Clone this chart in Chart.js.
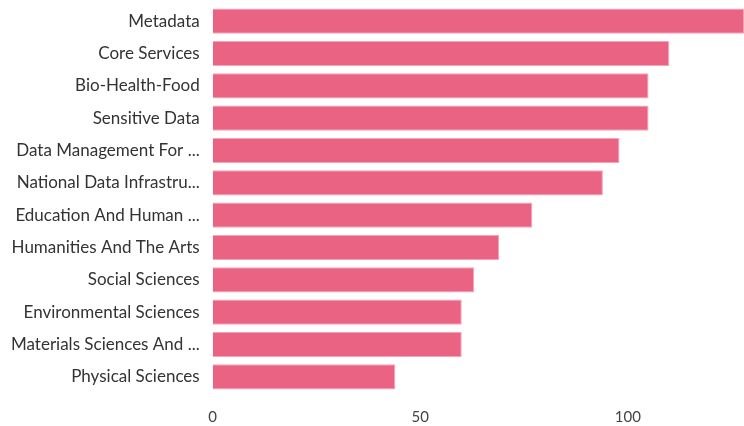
<!DOCTYPE html>
<html>
<head>
<meta charset="utf-8">
<script src="https://cdn.jsdelivr.net/npm/chart.js@4/dist/chart.umd.min.js"></script>
<style>
  html, body { margin: 0; padding: 0; background: #fff; overflow: hidden; }
  canvas { display: block; }
</style>
</head>
<body>
<canvas id="topicChart" width="744" height="426"></canvas>
<script>
// categories as shown on the axis (already truncated in the source)
var topics = [
    'Metadata',
    'Core Services',
    'Bio-Health-Food',
    'Sensitive Data',
    'Data Management For ...',
    'National Data Infrastru...',
    'Education And Human ...',
    'Humanities And The Arts',
    'Social Sciences',
    'Environmental Sciences',
    'Materials Sciences And ...',
    'Physical Sciences'
];
var counts = [128, 110, 105, 105, 98, 94, 77, 69, 63, 60, 60, 44];
var xTicks = [0, 50, 100];
var xMax = 128;

document.addEventListener("DOMContentLoaded", function () {
    var ctx = document.getElementById('topicChart').getContext('2d');

    new Chart(ctx, {
        type: 'bar',
        data: {
            labels: topics,
            datasets: [{
                data: counts,
                backgroundColor: '#ea6383',
                borderColor: '#f5a3b6',
                borderWidth: 1,
                barPercentage: 0.97,
                categoryPercentage: 0.8
            }]
        },
        options: {
            indexAxis: 'y',
            responsive: false,
            animation: false,
            layout: { padding: { top: 5, right: 0, left: 11, bottom: 0 } },
            plugins: {
                legend: { display: false },
                tooltip: { enabled: false }
            },
            scales: {
                x: {
                    min: 0,
                    max: xMax,
                    grid: { display: false, drawTicks: false },
                    border: { display: false },
                    afterBuildTicks: function (axis) {
                        axis.ticks = xTicks.map(v => ({ value: v }));
                    },
                    // chart.js reserves the padding twice, only keep it once
                    afterFit: function (axis) {
                        axis.height -= axis.options.ticks.padding;
                    },
                    ticks: {
                        color: '#444',
                        padding: 15,
                        font: { family: 'Lato', size: 15 }
                    }
                },
                y: {
                    grid: { display: false, drawTicks: false },
                    border: { display: false },
                    afterFit: function (axis) {
                        axis.paddingTop = 0;
                        axis.paddingBottom = 0;
                        axis.width -= axis.options.ticks.padding;
                    },
                    ticks: {
                        color: '#333',
                        padding: 13,
                        font: { family: 'Lato', size: 17 }
                    }
                }
            }
        }
    });
});
</script>
</body>
</html>
